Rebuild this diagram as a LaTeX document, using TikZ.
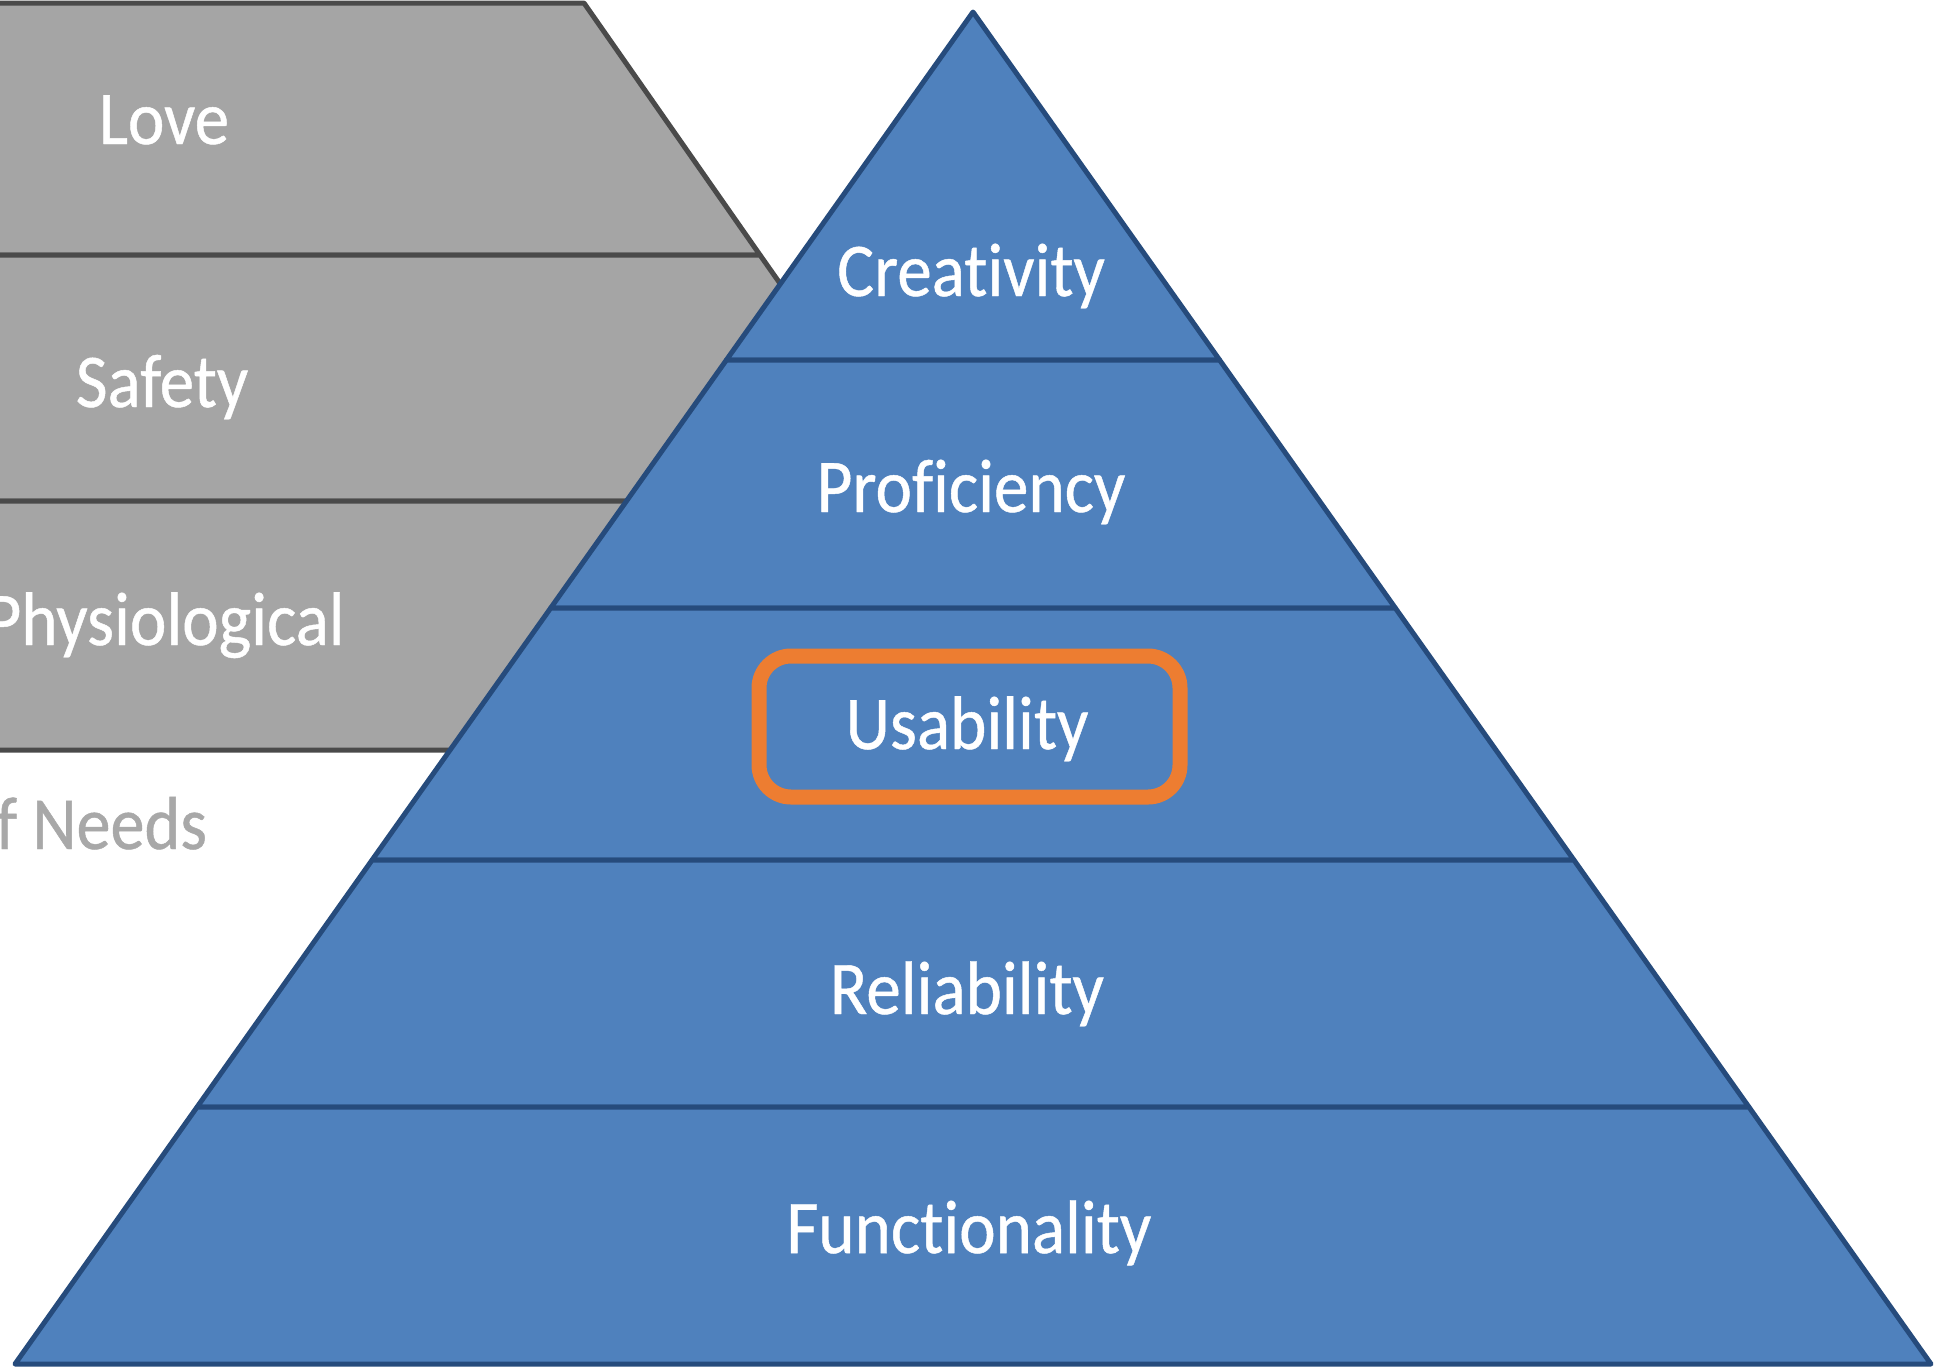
\documentclass[tikz,border=0pt]{standalone}
\usepackage{fontspec}
\setmainfont[Ligatures=NoCommon, FakeStretch=0.91, FakeBold=0.6]{Carlito}
\usetikzlibrary{calc}
\definecolor{pyrblue}{HTML}{4F81BD}
\definecolor{pyredge}{HTML}{2F5A8E}
\definecolor{pyrline}{HTML}{264B7C}
\definecolor{maslowgray}{HTML}{A5A5A5}
\definecolor{maslowedge}{HTML}{4A4A4A}
\definecolor{needsgray}{HTML}{A8A8A8}
\definecolor{hiorange}{HTML}{ED7D31}
\tikzset{
  blueband/.style={fill=pyrblue, draw=pyrline, line width=5pt, line join=round},
  grayband/.style={fill=maslowgray, draw=maslowedge, line width=5pt, line join=round},
  lbl/.style={text=white, font=\fontsize{76}{90}\selectfont, anchor=base, inner sep=0pt},
  needslbl/.style={text=needsgray, font=\fontsize{75}{90}\selectfont, anchor=base west, inner sep=0pt},
  hibox/.style={draw=hiorange, line width=15pt, rounded corners=32pt}
}
\begin{document}
\begin{tikzpicture}[x=1pt,y=-1pt]
\useasboundingbox (0,0) rectangle (1935,1369);
\clip (0,0) rectangle (1935,1369);
\fill[white] (0,0) rectangle (1935,1369);
% ---- Maslow (gray, behind) ----
\coordinate (g0) at (584,3);
\coordinate (g1) at (760,255);
\coordinate (g2) at (933,501);
\coordinate (g3) at (1107,750);
\draw[grayband] (-60,3) -- (g0) -- (g1) -- (-60,255) -- cycle;
\draw[grayband] (-60,255) -- (g1) -- (g2) -- (-60,501) -- cycle;
\draw[grayband] (-60,501) -- (g2) -- (g3) -- (-60,750) -- cycle;
\node[lbl] (love) at (164,144) {Love};
\node[lbl] (safety) at (162,407) {Safety};
\node[lbl, anchor=base east] (physio) at (345,645) {Physiological};
\node[needslbl] (needs) at (-4,849) {f Needs};
% ---- Product pyramid (blue) ----
\coordinate (apex) at (973,12);
\coordinate (c1l) at (726.4,360); \coordinate (c1r) at (1219.6,360);
\coordinate (c2l) at (550.7,608); \coordinate (c2r) at (1395.3,608);
\coordinate (c3l) at (372.1,860); \coordinate (c3r) at (1573.9,860);
\coordinate (c4l) at (197.1,1107); \coordinate (c4r) at (1748.9,1107);
\coordinate (c5l) at (15,1364); \coordinate (c5r) at (1931,1364);
\draw[blueband] (apex) -- (c1r) -- (c1l) -- cycle;
\draw[blueband] (c1l) -- (c1r) -- (c2r) -- (c2l) -- cycle;
\draw[blueband] (c2l) -- (c2r) -- (c3r) -- (c3l) -- cycle;
\draw[blueband] (c3l) -- (c3r) -- (c4r) -- (c4l) -- cycle;
\draw[blueband] (c4l) -- (c4r) -- (c5r) -- (c5l) -- cycle;
\node[lbl] (creativity) at (971,296) {Creativity};
\node[lbl] (proficiency) at (971,512) {Proficiency};
\node[lbl] (usability) at (967,749) {Usability};
\node[lbl] (reliability) at (967,1014) {Reliability};
\node[lbl] (functionality) at (969,1253) {Functionality};
% ---- highlight ----
\draw[hibox] (759,656) rectangle (1180,797);
\end{tikzpicture}
\end{document}
